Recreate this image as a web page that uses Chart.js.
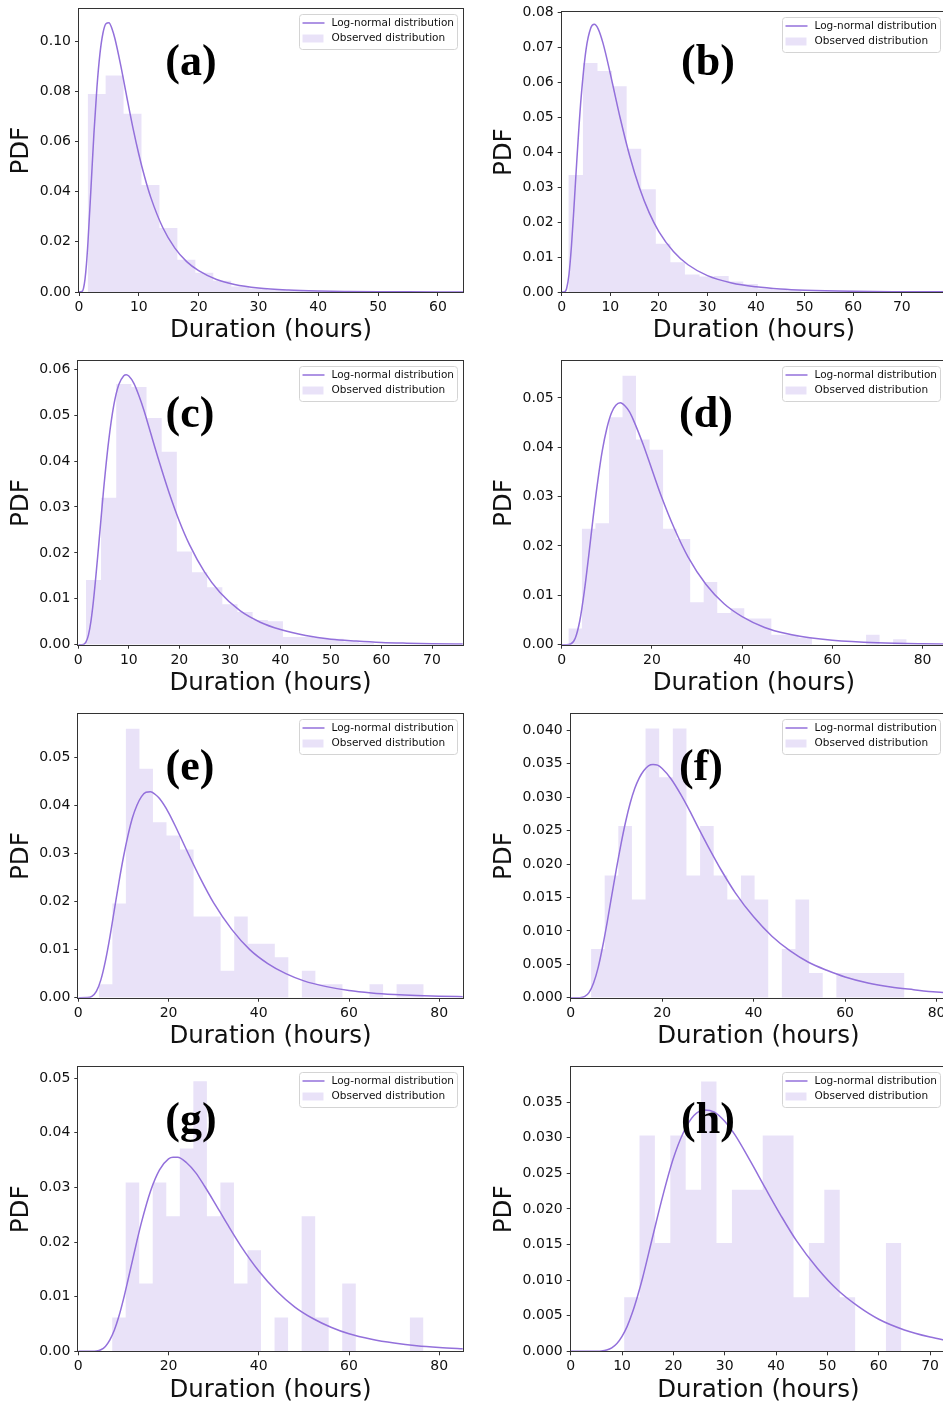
<!DOCTYPE html>
<html>
<head>
<meta charset="utf-8">
<title>Duration PDFs</title>
<script src="https://cdn.jsdelivr.net/npm/chart.js@4.4.0/dist/chart.umd.min.js"></script>
<style>
  html, body { margin: 0; padding: 0; background: #fff; }
  body { width: 943px; height: 1403px; overflow: hidden; position: relative; }
  canvas { position: absolute; }
</style>
</head>
<body>
<script>
// ---- (a) ----
const aBinStart = 1.45, aBinWidth = 3.0;
const aHist = [0.0789, 0.0863, 0.0710, 0.0426, 0.0255, 0.0128, 0.0077, 0.0045, 0.0022, 0.0014, 0.0008, 0.0005, 0.0003];
const aCurveX = [0, 0.5, 0.75, 1, 1.25, 1.5, 2, 2.5, 3, 3.5, 4, 4.5, 5, 5.5, 6, 7, 8, 9, 10, 11, 12, 14, 16, 18, 20, 23, 26, 30, 35, 40, 45, 50, 55, 60, 65];
const aCurveY = [0, 0.00018, 0.00146, 0.0050, 0.0112, 0.0199, 0.0413, 0.0633, 0.0816, 0.0949, 0.1031, 0.1069, 0.1073, 0.1050, 0.1010, 0.0900, 0.0776, 0.0656, 0.0549, 0.0456, 0.0377, 0.0257, 0.0176, 0.0121, 0.0085, 0.0050, 0.0030, 0.0016, 0.00078, 0.00039, 0.00021, 0.00011, 0.00006, 0.00004, 0.00002];
const aXTicks = [0, 10, 20, 30, 40, 50, 60];
const aYTicks = [0, 0.02, 0.04, 0.06, 0.08, 0.10];

// ---- (b) ----
const bBinStart = 1.37, bBinWidth = 3.0;
const bHist = [0.0335, 0.0655, 0.0632, 0.0589, 0.0410, 0.0294, 0.0138, 0.0085, 0.0050, 0.0044, 0.0046, 0.0030, 0.0023, 0.0010, 0.0006, 0.0004];
const bCurveX = [0, 0.5, 0.75, 1, 1.5, 2, 2.5, 3, 3.5, 4, 5, 6, 6.7, 7.5, 8.5, 10, 11, 12, 14, 16, 18, 20, 23, 26, 30, 35, 40, 45, 50, 60, 70, 80];
const bCurveY = [0, 0.00002, 0.00022, 0.00093, 0.0050, 0.0130, 0.0236, 0.0351, 0.0461, 0.0557, 0.0693, 0.0756, 0.0766, 0.0753, 0.0712, 0.0625, 0.0562, 0.0500, 0.0389, 0.0298, 0.0227, 0.0173, 0.0116, 0.0078, 0.0047, 0.0026, 0.0015, 0.00087, 0.00052, 0.00020, 0.00009, 0.00004];
const bXTicks = [0, 10, 20, 30, 40, 50, 60, 70];
const bYTicks = [0, 0.01, 0.02, 0.03, 0.04, 0.05, 0.06, 0.07, 0.08];

// ---- (c) ----
const cBinStart = 1.5, cBinWidth = 3.0;
const cHist = [0.0141, 0.0320, 0.0568, 0.0561, 0.0494, 0.0420, 0.0203, 0.0158, 0.0125, 0.0088, 0.0071, 0.0054, 0.0051, 0.0017, 0.0017, 0.0015, 0.0013, 0.0007, 0.0004];
const cCurveX = [0, 1, 1.5, 2, 2.5, 3, 4, 5, 6, 7, 8, 9, 9.5, 10, 11, 12, 13, 14, 16, 18, 20, 22, 25, 28, 32, 36, 40, 45, 50, 55, 60, 65, 70, 77];
const cCurveY = [0, 0.00006, 0.00055, 0.0021, 0.0051, 0.0096, 0.0212, 0.0337, 0.0443, 0.0520, 0.0566, 0.0586, 0.0588, 0.0585, 0.0569, 0.0542, 0.0510, 0.0473, 0.0399, 0.0330, 0.0269, 0.0218, 0.0158, 0.0114, 0.0074, 0.0049, 0.0033, 0.0020, 0.0012, 0.0008, 0.0005, 0.00034, 0.00023, 0.00014];
const cXTicks = [0, 10, 20, 30, 40, 50, 60, 70];
const cYTicks = [0, 0.01, 0.02, 0.03, 0.04, 0.05, 0.06];

// ---- (d) ----
const dBinStart = 1.48, dBinWidth = 3.0;
const dHist = [0.0033, 0.0235, 0.0246, 0.0461, 0.0545, 0.0416, 0.0395, 0.0235, 0.0214, 0.0086, 0.0127, 0.0064, 0.0074, 0.0053, 0.0053, 0.0020, 0.0020, 0.0014, 0, 0, 0, 0, 0.0020, 0, 0.0011];
const dCurveX = [0, 1, 2, 3, 4, 5, 6, 7, 8, 9, 10, 11, 12, 13, 14, 15, 16, 18, 20, 22, 25, 28, 32, 36, 40, 45, 50, 55, 60, 70, 80, 86];
const dCurveY = [0, 0, 0.00014, 0.0013, 0.0048, 0.0107, 0.0181, 0.0260, 0.0332, 0.0393, 0.0438, 0.0469, 0.0485, 0.0490, 0.0484, 0.0472, 0.0453, 0.0407, 0.0355, 0.0303, 0.0235, 0.0178, 0.0122, 0.0083, 0.0057, 0.0035, 0.0022, 0.0014, 0.0009, 0.0004, 0.00018, 0.00012];
const dXTicks = [0, 20, 40, 60, 80];
const dYTicks = [0, 0.01, 0.02, 0.03, 0.04, 0.05];

// ---- (e) ----
const eBinStart = 4.55, eBinWidth = 3.0;
const eHist = [0.0028, 0.0196, 0.0559, 0.0476, 0.0365, 0.0337, 0.0308, 0.0169, 0.0169, 0.0056, 0.0169, 0.0112, 0.0112, 0.0084, 0, 0.0056, 0.0028, 0.0028, 0, 0, 0.0028, 0, 0.0028, 0.0028];
const eCurveX = [0, 2, 3, 4, 5, 6, 7, 8, 9, 10, 11, 12, 13, 14, 15, 16, 17, 18, 20, 22, 24, 27, 30, 34, 38, 42, 46, 50, 55, 60, 65, 70, 75, 80, 86];
const eCurveY = [0, 0.00002, 0.00026, 0.0013, 0.0037, 0.0076, 0.0126, 0.0183, 0.0240, 0.0292, 0.0337, 0.0374, 0.0400, 0.0418, 0.0427, 0.0428, 0.0423, 0.0414, 0.0385, 0.0347, 0.0307, 0.0249, 0.0197, 0.0142, 0.0100, 0.0071, 0.0050, 0.0035, 0.0023, 0.0015, 0.0010, 0.00067, 0.00045, 0.00031, 0.00021];
const eXTicks = [0, 20, 40, 60, 80];
const eYTicks = [0, 0.01, 0.02, 0.03, 0.04, 0.05];

// ---- (f) ----
const fBinStart = 4.45, fBinWidth = 2.98;
const fHist = [0.0073, 0.0183, 0.0257, 0.0147, 0.0403, 0.0330, 0.0403, 0.0183, 0.0257, 0.0183, 0.0147, 0.0183, 0.0147, 0, 0.0073, 0.0147, 0.0037, 0, 0.0037, 0.0037, 0.0037, 0.0037, 0.0037];
const fCurveX = [0, 2, 3, 4, 5, 6, 7, 8, 9, 10, 11, 12, 13, 14, 15, 16, 17, 18, 19, 20, 22, 24, 26, 28, 30, 33, 36, 40, 44, 48, 52, 56, 60, 65, 70, 75, 80, 83];
const fCurveY = [0, 0.00001, 0.00015, 0.00076, 0.0022, 0.0045, 0.0077, 0.0114, 0.0154, 0.0193, 0.0230, 0.0263, 0.0291, 0.0313, 0.0329, 0.0340, 0.0347, 0.0349, 0.0348, 0.0343, 0.0327, 0.0305, 0.0280, 0.0253, 0.0227, 0.0190, 0.0157, 0.0121, 0.0092, 0.0070, 0.0053, 0.0041, 0.0031, 0.0022, 0.0016, 0.0012, 0.00084, 0.0007];
const fXTicks = [0, 20, 40, 60, 80];
const fYTicks = [0, 0.005, 0.010, 0.015, 0.020, 0.025, 0.030, 0.035, 0.040];

// ---- (g) ----
const gBinStart = 7.5, gBinWidth = 3.0;
const gHist = [0.0062, 0.0309, 0.0124, 0.0309, 0.0247, 0.0371, 0.0494, 0.0247, 0.0309, 0.0124, 0.0185, 0, 0.0062, 0, 0.0247, 0.0062, 0, 0.0124, 0, 0, 0, 0, 0.0062];
const gCurveX = [0, 3, 4, 5, 6, 7, 8, 9, 10, 11, 12, 13, 14, 16, 18, 20, 21, 22, 24, 26, 28, 30, 33, 36, 40, 44, 48, 52, 56, 60, 65, 70, 75, 80, 86];
const gCurveY = [0, 0.00001, 0.00006, 0.00029, 0.0009, 0.0021, 0.0039, 0.0064, 0.0095, 0.0130, 0.0166, 0.0202, 0.0236, 0.0293, 0.0332, 0.0352, 0.0355, 0.0355, 0.0345, 0.0327, 0.0302, 0.0275, 0.0233, 0.0193, 0.0147, 0.0110, 0.0081, 0.0060, 0.0044, 0.0032, 0.0022, 0.0015, 0.0010, 0.00069, 0.00044];
const gXTicks = [0, 20, 40, 60, 80];
const gYTicks = [0, 0.01, 0.02, 0.03, 0.04, 0.05];

// ---- (h) ----
const hBinStart = 10.4, hBinWidth = 3.0;
const hHist = [0.0076, 0.0303, 0.0152, 0.0303, 0.0227, 0.0379, 0.0152, 0.0227, 0.0227, 0.0303, 0.0303, 0.0076, 0.0152, 0.0227, 0.0076, 0, 0, 0.0152];
const hCurveX = [0, 4, 5, 6, 7, 8, 9, 10, 11, 12, 13, 14, 16, 18, 20, 22, 24, 26, 28, 30, 32, 35, 38, 41, 44, 48, 52, 56, 60, 65, 70, 74];
const hCurveY = [0, 0, 0.00001, 0.00005, 0.00018, 0.00049, 0.0011, 0.0021, 0.0035, 0.0054, 0.0077, 0.0103, 0.0162, 0.0220, 0.0271, 0.0308, 0.0331, 0.0339, 0.0336, 0.0323, 0.0304, 0.0267, 0.0228, 0.0190, 0.0155, 0.0117, 0.0086, 0.0063, 0.0045, 0.0030, 0.0020, 0.0014];
const hXTicks = [0, 10, 20, 30, 40, 50, 60, 70];
const hYTicks = [0, 0.005, 0.010, 0.015, 0.020, 0.025, 0.030, 0.035];

const LINE_COLOR = 'rgb(147, 112, 219)';
const FILL_COLOR = 'rgba(147, 112, 219, 0.2)';
const INK = '#111';

Chart.defaults.font.family = '"DejaVu Sans", sans-serif';
Chart.defaults.color = INK;

// plot boxes on the page (l, t, r, b), axis ranges, letter anchor
const panels = [
  { tag: '(a)', l: 79,    t: 9,      r: 463,   b: 292,    xMax: 64.2,  yMax: 0.1126,  dec: 2, lx: 191, ly: 75,
    start: aBinStart, width: aBinWidth, hist: aHist, cx: aCurveX, cy: aCurveY, xt: aXTicks, yt: aYTicks },
  { tag: '(b)', l: 561.7, t: 12,     r: 946,   b: 292,    xMax: 79.1,  yMax: 0.08,    dec: 2, lx: 708, ly: 75,
    start: bBinStart, width: bBinWidth, hist: bHist, cx: bCurveX, cy: bCurveY, xt: bXTicks, yt: bYTicks },
  { tag: '(c)', l: 78.3,  t: 361.3,  r: 462.7, b: 644.7,  xMax: 76.07, yMax: 0.0617,  dec: 2, lx: 190, ly: 427,
    start: cBinStart, width: cBinWidth, hist: cHist, cx: cCurveX, cy: cCurveY, xt: cXTicks, yt: cYTicks },
  { tag: '(d)', l: 561.7, t: 361.3,  r: 946,   b: 644.7,  xMax: 85.2,  yMax: 0.0574,  dec: 2, lx: 706, ly: 427,
    start: dBinStart, width: dBinWidth, hist: dHist, cx: dCurveX, cy: dCurveY, xt: dXTicks, yt: dYTicks },
  { tag: '(e)', l: 78.3,  t: 714.3,  r: 462.7, b: 997.7,  xMax: 85.2,  yMax: 0.0589,  dec: 2, lx: 190, ly: 780,
    start: eBinStart, width: eBinWidth, hist: eHist, cx: eCurveX, cy: eCurveY, xt: eXTicks, yt: eYTicks },
  { tag: '(f)', l: 570.7, t: 714.3,  r: 946,   b: 997.7,  xMax: 82.07, yMax: 0.0424,  dec: 3, lx: 701, ly: 780,
    start: fBinStart, width: fBinWidth, hist: fHist, cx: fCurveX, cy: fCurveY, xt: fXTicks, yt: fYTicks },
  { tag: '(g)', l: 78.3,  t: 1067.3, r: 462.7, b: 1351.3, xMax: 85.2,  yMax: 0.05195, dec: 2, lx: 191, ly: 1133,
    start: gBinStart, width: gBinWidth, hist: gHist, cx: gCurveX, cy: gCurveY, xt: gXTicks, yt: gYTicks },
  { tag: '(h)', l: 570.7, t: 1067.3, r: 946,   b: 1351.3, xMax: 73.1,  yMax: 0.03987, dec: 3, lx: 708, ly: 1133,
    start: hBinStart, width: hBinWidth, hist: hHist, cx: hCurveX, cy: hCurveY, xt: hXTicks, yt: hYTicks }
];

// frame, in-plot legend and the panel letter
const panelDecor = {
  id: 'panelDecor',
  afterDraw(chart, args, opts) {
    const { ctx, chartArea: a } = chart;
    const ds = chart.data.datasets;
    ctx.save();

    ctx.strokeStyle = '#333';
    ctx.lineWidth = 1;
    const x0 = Math.round(a.left) - 0.5, y0 = Math.round(a.top) - 0.5;
    const x1 = Math.round(a.right) + 0.5, y1 = Math.round(a.bottom) + 0.5;
    ctx.strokeRect(x0, y0, x1 - x0, y1 - y0);

    const w = 158, h = 35;
    const lx = Math.round(a.right - 6 - w) + 0.5, ly = Math.round(a.top + 5) + 0.5;
    ctx.beginPath();
    if (ctx.roundRect) ctx.roundRect(lx, ly, w, h, 3); else ctx.rect(lx, ly, w, h);
    ctx.fillStyle = 'rgba(255,255,255,0.8)';
    ctx.fill();
    ctx.strokeStyle = '#d4d4d4';
    ctx.stroke();

    ctx.strokeStyle = ds[0].borderColor;
    ctx.lineWidth = 1.5;
    ctx.beginPath();
    ctx.moveTo(lx + 3, ly + 8.5);
    ctx.lineTo(lx + 25, ly + 8.5);
    ctx.stroke();
    ctx.fillStyle = ds[1].backgroundColor;
    ctx.fillRect(lx + 3, ly + 20, 21, 8);

    ctx.fillStyle = INK;
    ctx.font = '10.5px "DejaVu Sans"';
    ctx.textBaseline = 'middle';
    ctx.textAlign = 'left';
    ctx.fillText(ds[0].label, lx + 32, ly + 8.5);
    ctx.fillText(ds[1].label, lx + 32, ly + 24);

    ctx.fillStyle = '#000';
    ctx.font = 'bold 44px "Liberation Serif"';
    ctx.textAlign = 'center';
    ctx.textBaseline = 'alphabetic';
    ctx.fillText(opts.letter, opts.x, opts.y);
    ctx.restore();
  }
};

function histogramPoints(start, width, heights) {
  const pts = heights.map((v, i) => ({ x: start + i * width, y: v }));
  pts.push({ x: start + heights.length * width, y: 0 });
  return pts;
}

function drawPanel(p) {
  const colLeft = p.l < 300 ? 0 : 482;
  const top = Math.floor(p.t) - 12;
  const w = Math.ceil(p.r + 10 - colLeft);
  const h = Math.ceil(p.b + 60) - top;
  const yAxisW = p.l - colLeft;
  const xAxisH = h - (p.b - top);
  const pdfX = colLeft === 0 ? 21.7 : 505;

  const canvas = document.createElement('canvas');
  canvas.width = w;
  canvas.height = h;
  canvas.style.left = colLeft + 'px';
  canvas.style.top = top + 'px';
  canvas.style.width = w + 'px';
  canvas.style.height = h + 'px';
  document.body.appendChild(canvas);

  const titleFont = { size: 24.5, lineHeight: 1.2 };
  const tickFont = { size: 14 };

  new Chart(canvas, {
    type: 'line',
    data: {
      datasets: [{
        label: 'Log-normal distribution',
        data: p.cx.map((x, i) => ({ x: x, y: p.cy[i] })),
        borderColor: LINE_COLOR,
        borderWidth: 1.5,
        pointRadius: 0,
        fill: false,
        cubicInterpolationMode: 'monotone'
      }, {
        label: 'Observed distribution',
        data: histogramPoints(p.start, p.width, p.hist),
        stepped: true,
        borderColor: 'rgba(0,0,0,0)',
        borderWidth: 0,
        backgroundColor: FILL_COLOR,
        pointRadius: 0,
        fill: 'origin'
      }]
    },
    options: {
      responsive: false,
      animation: false,
      events: [],
      layout: { padding: { top: p.t - top, right: w - (p.r - colLeft), bottom: 0, left: 0 } },
      plugins: {
        legend: { display: false },
        tooltip: { enabled: false },
        panelDecor: { letter: p.tag, x: p.lx - colLeft, y: p.ly - top }
      },
      scales: {
        x: {
          type: 'linear',
          min: 0,
          max: p.xMax,
          afterBuildTicks: s => { s.ticks = p.xt.map(v => ({ value: v })); },
          afterFit: s => { s.height = xAxisH; },
          ticks: { font: tickFont, color: INK, padding: 3, maxRotation: 0, autoSkip: false, callback: v => String(v) },
          grid: { drawOnChartArea: false, drawTicks: true, tickLength: 4, tickColor: '#333' },
          border: { display: false },
          title: { display: true, text: 'Duration (hours)', font: titleFont, color: INK,
                   padding: { top: 0, bottom: xAxisH - 39 - 14.7 } }
        },
        y: {
          type: 'linear',
          min: 0,
          max: p.yMax,
          afterBuildTicks: s => { s.ticks = p.yt.map(v => ({ value: v })); },
          afterFit: s => { s.width = yAxisW; },
          ticks: { font: tickFont, color: INK, padding: 4, autoSkip: false, callback: v => v.toFixed(p.dec) },
          grid: { drawOnChartArea: false, drawTicks: true, tickLength: 4, tickColor: '#333' },
          border: { display: false },
          title: { display: true, text: 'PDF', font: titleFont, color: INK,
                   padding: { top: pdfX - colLeft - 14.7, bottom: 0 } }
        }
      }
    },
    plugins: [panelDecor]
  });
}

panels.forEach(drawPanel);
</script>
</body>
</html>
